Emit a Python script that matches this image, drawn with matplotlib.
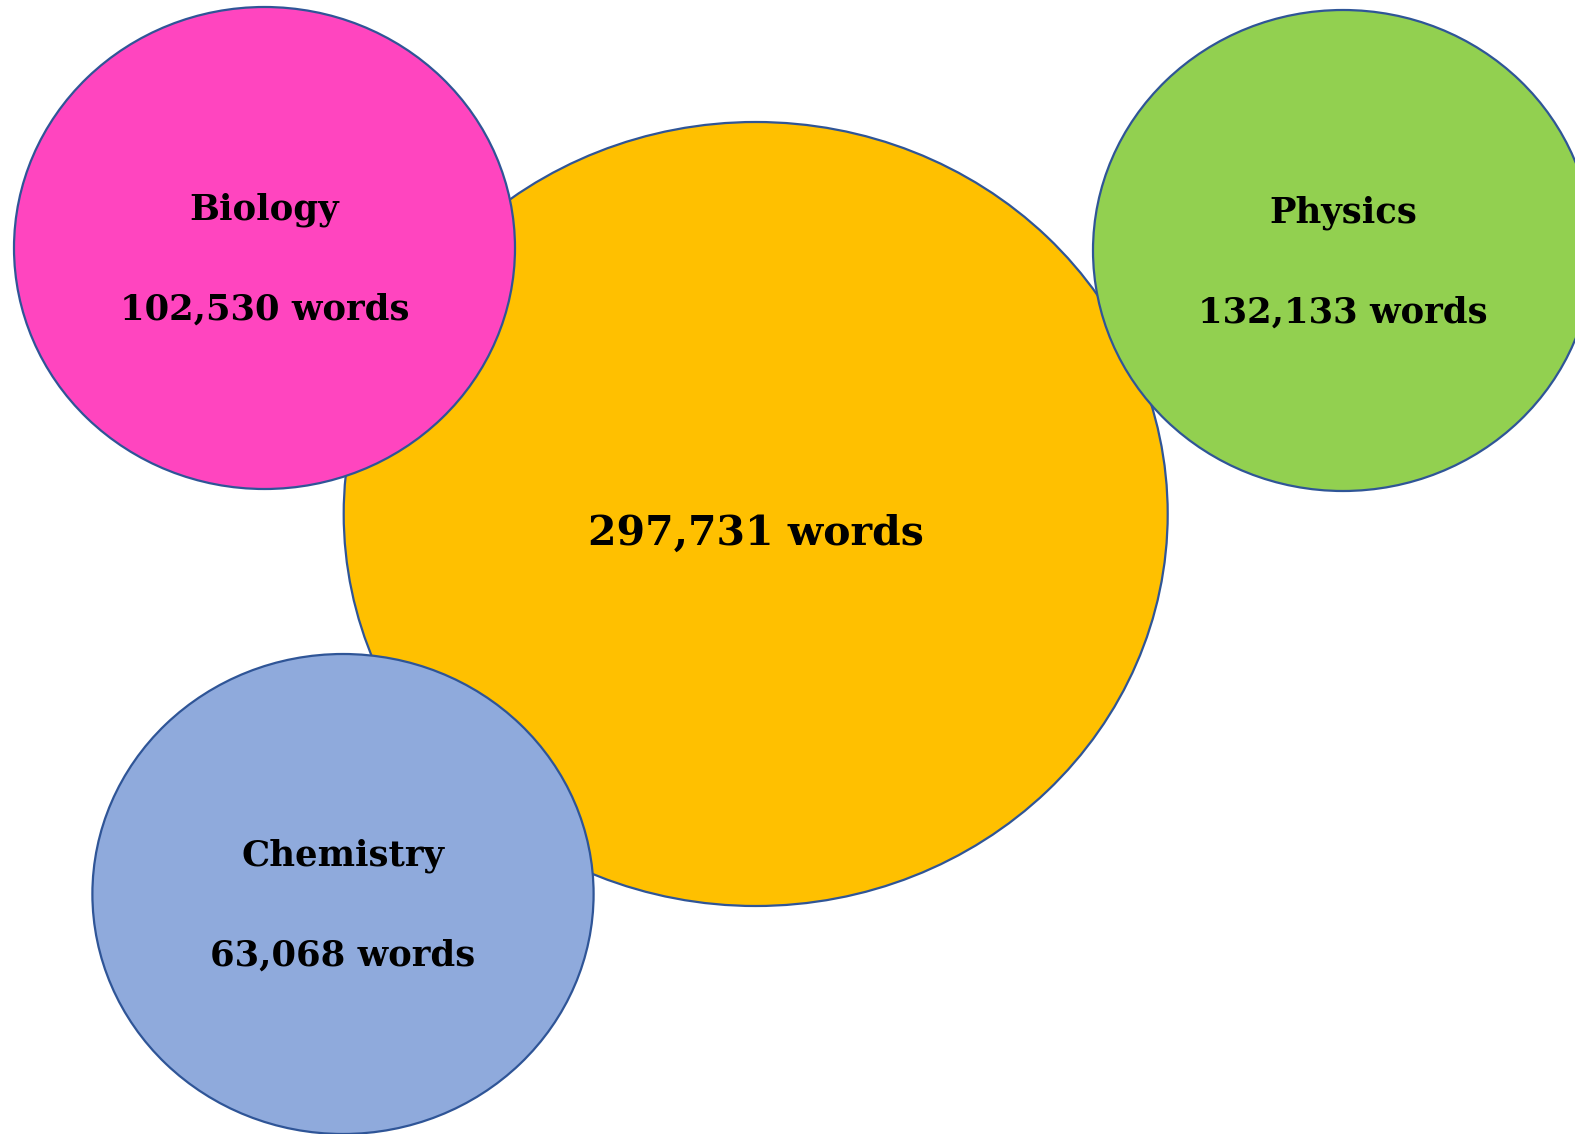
import matplotlib
matplotlib.use("Agg")
import matplotlib.pyplot as plt
from matplotlib.patches import Ellipse

# Data
names = ["", "Biology", "Physics", "Chemistry"]
words = [297731, 102530, 132133, 63068]
cx = [755.7, 264.5, 1343.0, 343.0]
cy = [514.0, 248.0, 250.5, 894.0]
rx = [412.0, 250.5, 250.0, 250.6]
ry = [392.0, 241.0, 240.5, 240.0]
colors = ["#FFC000", "#FF45BF", "#92D050", "#8FAADC"]

W, H = 1575, 1134
fig = plt.figure(figsize=(W / 100, H / 100), dpi=100)
ax = fig.add_axes([0, 0, 1, 1])
ax.set_xlim(0, W)
ax.set_ylim(H, 0)
ax.axis("off")

font = ["DejaVu Serif"]
for i in range(len(names)):
    e = Ellipse((cx[i], cy[i]), 2 * rx[i], 2 * ry[i], facecolor=colors[i],
                edgecolor="#2F5597", linewidth=1.6, zorder=i + 1)
    ax.add_patch(e)
    label = f"{words[i]:,} words"
    if names[i]:
        ax.text(cx[i], cy[i] - 38, names[i], ha="center", va="center",
                fontsize=25.5, fontweight="bold", family=font, zorder=10)
        ax.text(cx[i], cy[i] + 62, label, ha="center", va="center",
                fontsize=25.5, fontweight="bold", family=font, zorder=10)
    else:
        ax.text(cx[i], cy[i] + 20, label, ha="center", va="center",
                fontsize=29.5, fontweight="bold", family=font, zorder=10)

fig.savefig("out.png", dpi=100)
